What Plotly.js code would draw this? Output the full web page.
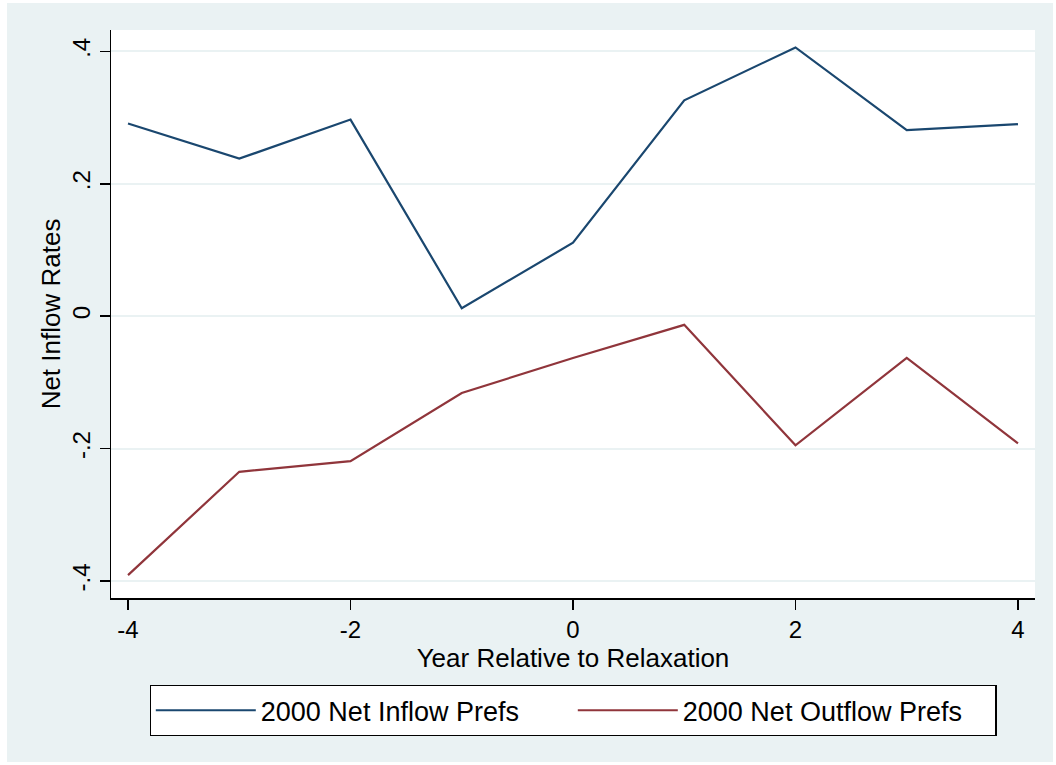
<!DOCTYPE html>
<html>
<head>
<meta charset="utf-8">
<script src="https://cdn.plot.ly/plotly-3.0.1.min.js"></script>
<style>
html,body{margin:0;padding:0;background:#ffffff;}
#chart{position:absolute;left:7px;top:3px;width:1046px;height:759px;}
</style>
</head>
<body>
<div id="chart"></div>
<script>
var years = [-4, -3, -2, -1, 0, 1, 2, 3, 4];
var inflowPrefs = [0.291, 0.238, 0.297, 0.012, 0.111, 0.326, 0.406, 0.281, 0.290];
var outflowPrefs = [-0.391, -0.235, -0.219, -0.116, -0.063, -0.013, -0.195, -0.063, -0.192];
var seriesNames = ['2000 Net Inflow Prefs', '2000 Net Outflow Prefs'];
var yTickVals = [-0.4, -0.2, 0, 0.2, 0.4];
var yTickText = ['-.4', '-.2', '0', '.2', '.4'];
var xTickVals = [-4, -2, 0, 2, 4];
var xTickText = ['-4', '-2', '0', '2', '4'];

var FONT = 'Liberation Sans, Arial, Helvetica, sans-serif';

var traces = [
  {x: years, y: inflowPrefs, name: seriesNames[0], type: 'scatter', mode: 'lines',
   line: {color: '#1a476f', width: 2.2}},
  {x: years, y: outflowPrefs, name: seriesNames[1], type: 'scatter', mode: 'lines',
   line: {color: '#90353b', width: 2.2}}
];

var layout = {
  width: 1046, height: 759,
  paper_bgcolor: '#eaf2f3',
  plot_bgcolor: '#ffffff',
  margin: {l: 104, r: 18, t: 27, b: 164},
  font: {family: FONT, color: '#000000'},
  xaxis: {
    range: [-4.153, 4.153],
    tickvals: xTickVals, ticktext: xTickText,
    ticks: 'outside', ticklen: 10, tickwidth: 1.5, tickcolor: '#000000',
    showline: true, linecolor: '#000000', linewidth: 1.5,
    showgrid: false, zeroline: false,
    tickfont: {size: 24, family: FONT},
    title: {text: 'Year Relative to Relaxation', font: {size: 26, family: FONT}, standoff: 0},
    automargin: false
  },
  yaxis: {
    range: [-0.4256, 0.4323],
    tickvals: yTickVals, ticktext: yTickText,
    tickangle: -90,
    ticks: 'outside', ticklen: 10, tickwidth: 1.5, tickcolor: '#000000',
    showline: true, linecolor: '#000000', linewidth: 1.5,
    showgrid: true, gridcolor: '#eaf2f3', gridwidth: 2,
    zeroline: false,
    tickfont: {size: 24, family: FONT},
    title: {text: 'Net Inflow Rates', font: {size: 26, family: FONT}, standoff: 0},
    automargin: false
  },
  showlegend: true,
  legend: {
    orientation: 'h',
    x: 0.5, xanchor: 'center',
    y: -0.153, yanchor: 'top',
    bgcolor: '#ffffff', bordercolor: '#000000', borderwidth: 1.3,
    font: {size: 27, family: FONT, color: '#000000'},
    itemwidth: 100,
    entrywidth: 307,
    traceorder: 'normal'
  }
};

Plotly.newPlot('chart', traces, layout, {displayModeBar: false, staticPlot: true});
</script>
</body>
</html>
